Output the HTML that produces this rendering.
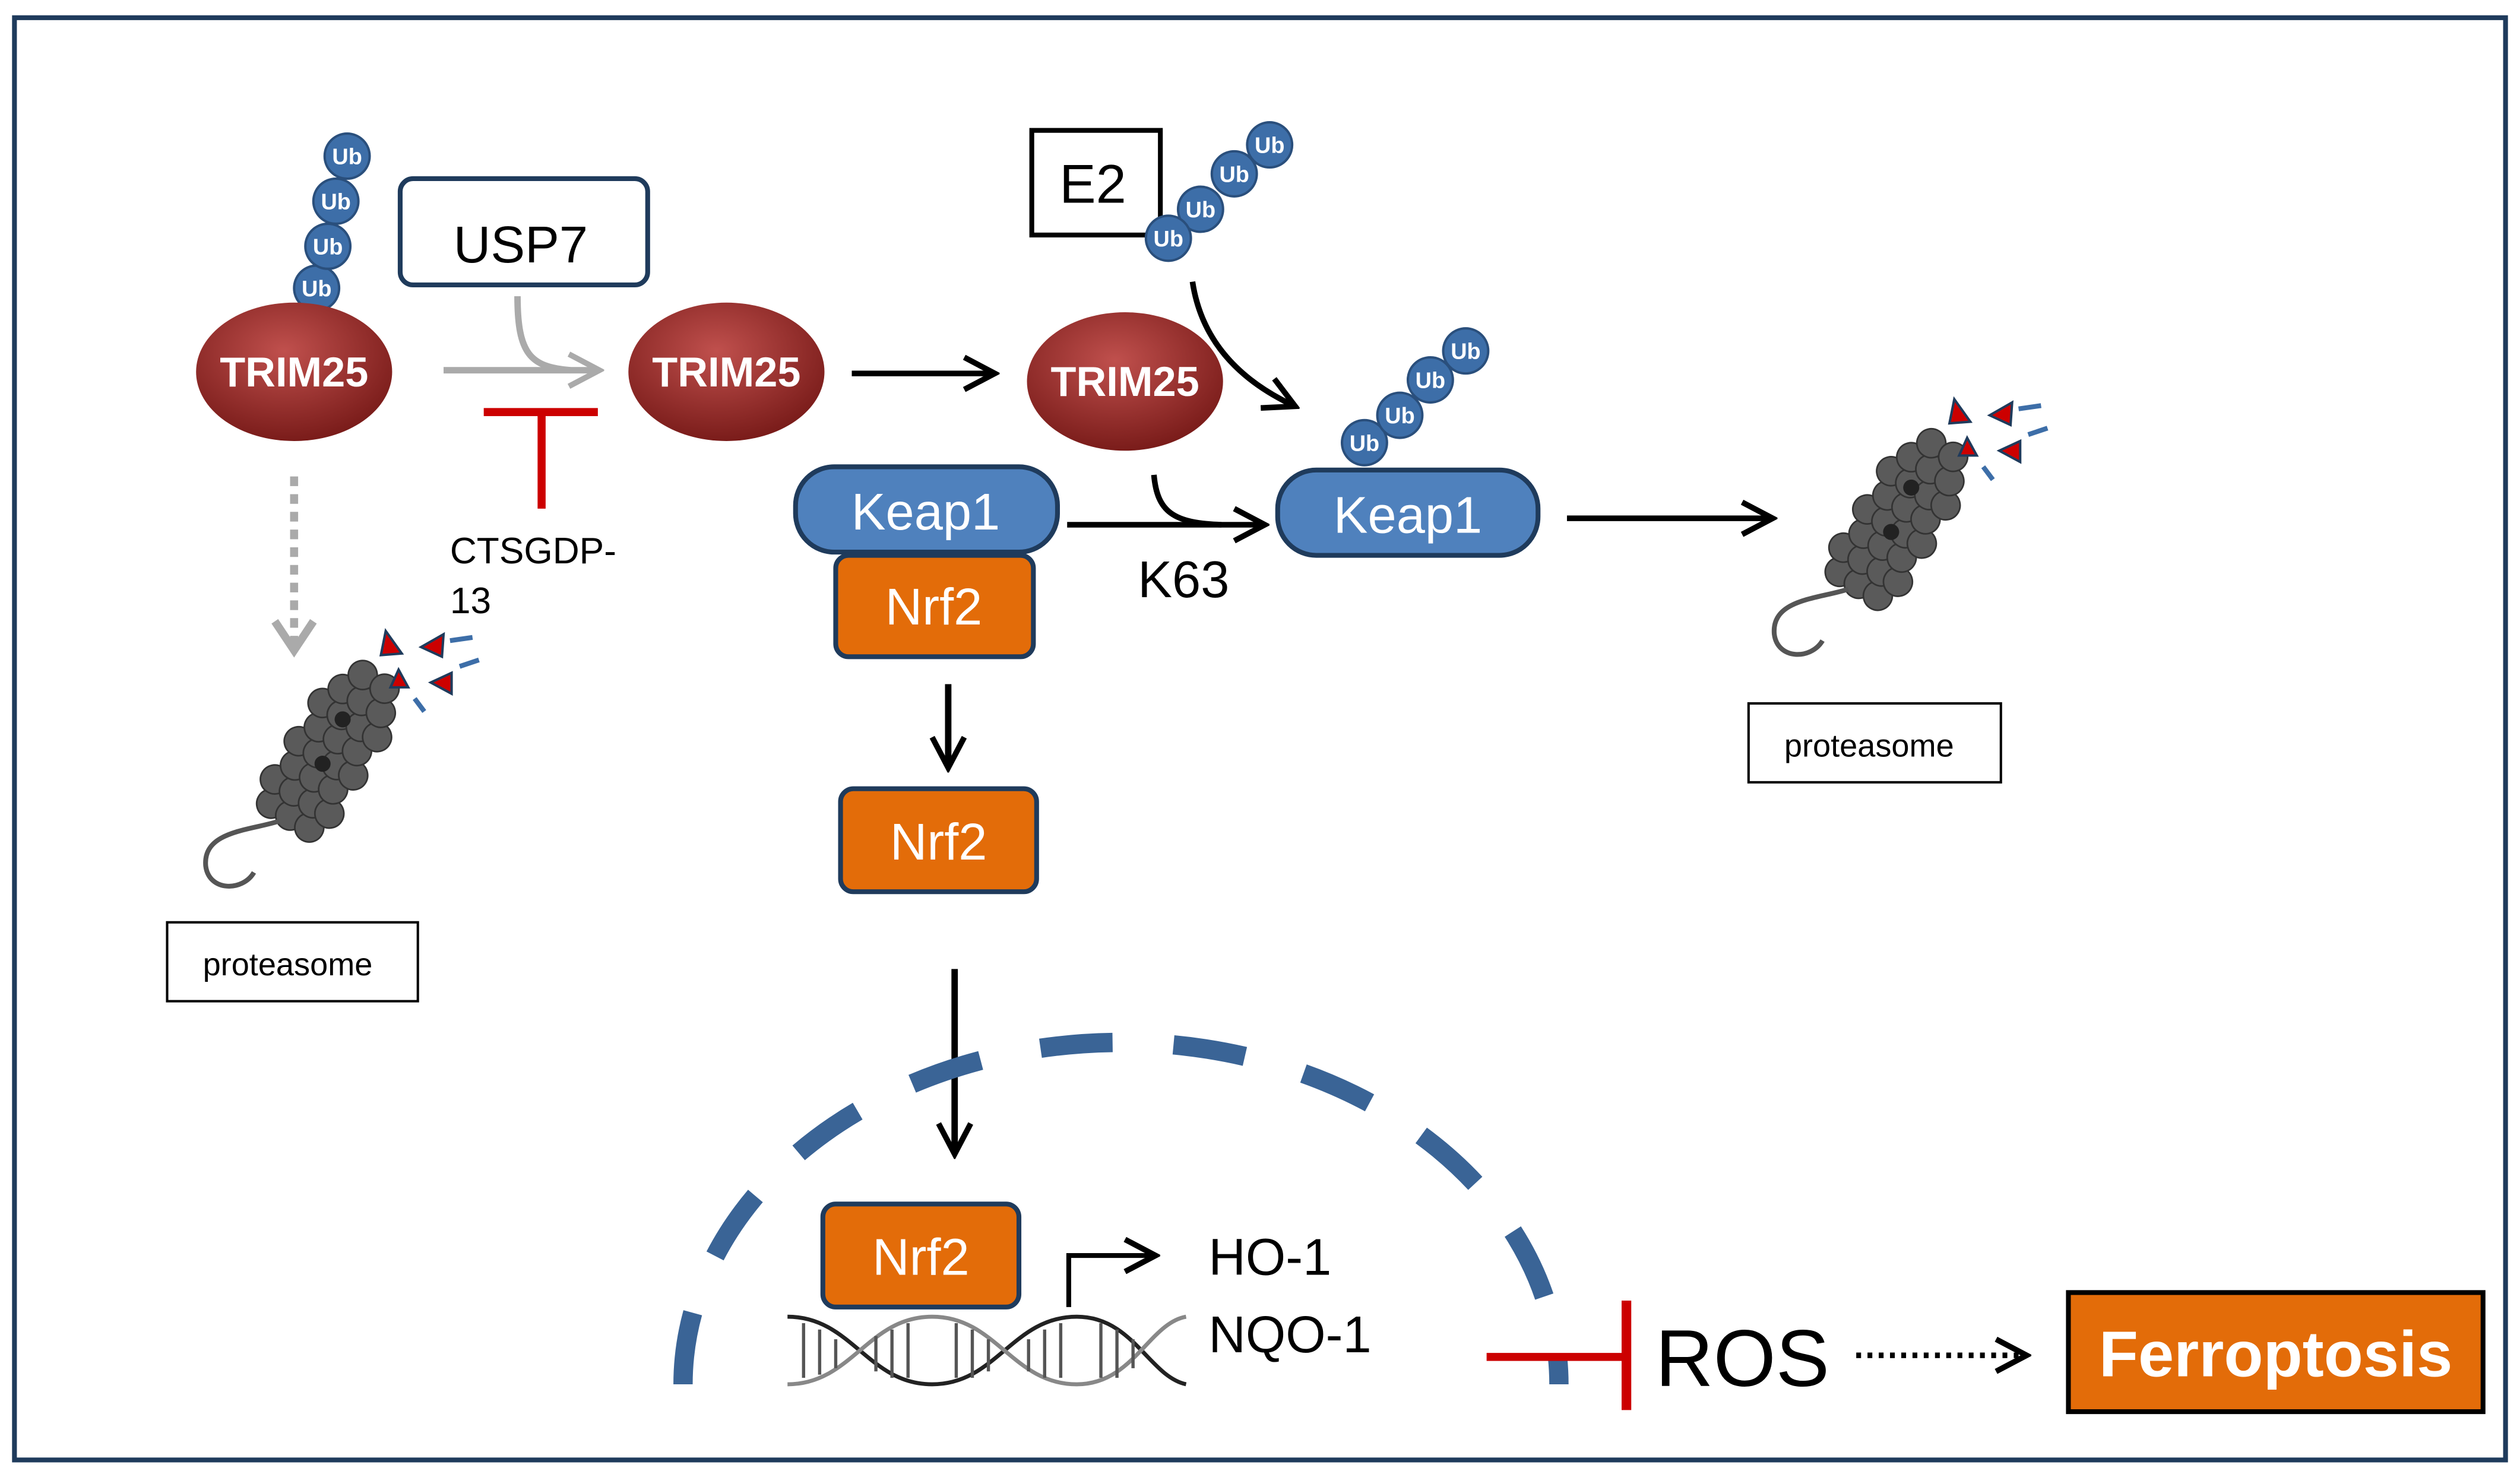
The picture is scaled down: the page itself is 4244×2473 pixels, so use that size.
<!DOCTYPE html>
<html><head><meta charset="utf-8"><style>
html,body{margin:0;padding:0;background:#fff;width:4244px;height:2473px;overflow:hidden}
svg{display:block}
text{font-family:"Liberation Sans",sans-serif}
</style></head><body>
<svg width="4244" height="2473" viewBox="0 0 1568 912" preserveAspectRatio="none" xmlns="http://www.w3.org/2000/svg">
<defs>
<radialGradient id="rg" cx="45%" cy="35%" r="65%"><stop offset="0" stop-color="#c0504d"/><stop offset="1" stop-color="#7a1c1a"/></radialGradient>
<marker id="abig" markerWidth="24" markerHeight="24" refX="20" refY="12" orient="auto" markerUnits="userSpaceOnUse"><path d="M2,2 L21,12 L2,22" fill="none" stroke="#000" stroke-width="3.5"/></marker>
<marker id="agray" markerWidth="24" markerHeight="24" refX="20" refY="12" orient="auto" markerUnits="userSpaceOnUse"><path d="M2,2 L21,12 L2,22" fill="none" stroke="#aaa" stroke-width="3.5"/></marker>
<g id="ub"><circle r="14" fill="#3d6ea8" stroke="#2a4f7c" stroke-width="1.5"/><text y="5" text-anchor="middle" font-size="14" font-weight="bold" fill="#fff">Ub</text></g>
<g id="prot">
<g transform="rotate(-58)">
<g fill="#5a5a5a" stroke="#333" stroke-width="1">
<circle cx="-48" cy="-14" r="9"/><circle cx="-48" cy="0" r="9"/><circle cx="-48" cy="14" r="9"/>
<circle cx="-34" cy="-20" r="9"/><circle cx="-34" cy="-6" r="9"/><circle cx="-34" cy="8" r="9"/><circle cx="-34" cy="20" r="9"/>
<circle cx="-20" cy="-14" r="9"/><circle cx="-20" cy="0" r="9"/><circle cx="-20" cy="14" r="9"/>
<circle cx="-6" cy="-20" r="9"/><circle cx="-6" cy="-6" r="9"/><circle cx="-6" cy="8" r="9"/><circle cx="-6" cy="20" r="9"/>
<circle cx="8" cy="-14" r="9"/><circle cx="8" cy="0" r="9"/><circle cx="8" cy="14" r="9"/>
<circle cx="22" cy="-20" r="9"/><circle cx="22" cy="-6" r="9"/><circle cx="22" cy="8" r="9"/><circle cx="22" cy="20" r="9"/>
<circle cx="36" cy="-14" r="9"/><circle cx="36" cy="0" r="9"/><circle cx="36" cy="14" r="9"/>
<circle cx="50" cy="-8" r="9"/><circle cx="50" cy="8" r="9"/>
</g>
<circle cx="-10" cy="0" r="5" fill="#222"/><circle cx="20" cy="-4" r="5" fill="#222"/>
</g>
<path d="M-32,44 C-50,50 -80,50 -78,72 C-76,88 -55,88 -48,76" fill="none" stroke="#555" stroke-width="3"/>
<g stroke="#1f3b5c" stroke-width="1.5" fill="#c00">
<path d="M34,-74 l10,14 l-13,1z"/><path d="M56,-64 l14,-8 l-1,14z"/><path d="M62,-42 l13,-6 l0,13z"/><path d="M42,-50 l6,11 l-11,0z"/>
</g>
<path d="M74,-68 l14,-2 M80,-52 l12,-4 M52,-32 l6,8" stroke="#3d6ea8" stroke-width="3"/>
</g>
</defs>
<rect x="9" y="11" width="1550" height="896" fill="#fff" stroke="#1f3b5c" stroke-width="3"/>

<use href="#ub" x="197" y="179"/><use href="#ub" x="204" y="153"/><use href="#ub" x="209" y="125"/><use href="#ub" x="216" y="97"/>
<ellipse cx="183" cy="231" rx="61" ry="43" fill="url(#rg)"/>
<text x="183" y="240" text-anchor="middle" font-size="26" font-weight="bold" fill="#fff">TRIM25</text>

<rect x="249" y="111" width="154" height="66" rx="8" fill="#fff" stroke="#1f3b5c" stroke-width="3"/>
<text x="324" y="163" text-anchor="middle" font-size="32">USP7</text>
<line x1="276" y1="230" x2="372" y2="230" stroke="#aaa" stroke-width="4" marker-end="url(#agray)"/>
<path d="M322,184 C322,220 330,228 355,230" fill="none" stroke="#aaa" stroke-width="4"/>
<line x1="337" y1="256" x2="337" y2="316" stroke="#c00" stroke-width="5"/>
<line x1="301" y1="256" x2="372" y2="256" stroke="#c00" stroke-width="5"/>
<text x="280" y="350" font-size="23">CTSGDP-</text>
<text x="280" y="381" font-size="23">13</text>

<ellipse cx="452" cy="231" rx="61" ry="43" fill="url(#rg)"/>
<text x="452" y="240" text-anchor="middle" font-size="26" font-weight="bold" fill="#fff">TRIM25</text>
<line x1="530" y1="232" x2="618" y2="232" stroke="#000" stroke-width="3.5" marker-end="url(#abig)"/>

<ellipse cx="700" cy="237" rx="61" ry="43" fill="url(#rg)"/>
<text x="700" y="246" text-anchor="middle" font-size="26" font-weight="bold" fill="#fff">TRIM25</text>

<rect x="642" y="81" width="80" height="65" fill="#fff" stroke="#000" stroke-width="3"/>
<text x="680" y="126" text-anchor="middle" font-size="34">E2</text>
<use href="#ub" x="790" y="90"/><use href="#ub" x="768" y="108"/><use href="#ub" x="747" y="130"/><use href="#ub" x="727" y="148"/>
<path d="M742,175 C748,215 775,238 805,252" fill="none" stroke="#000" stroke-width="3.5" marker-end="url(#abig)"/>

<rect x="495" y="290" width="163" height="53" rx="24" fill="#4f81bd" stroke="#1f3b5c" stroke-width="3"/>
<text x="576" y="329" text-anchor="middle" font-size="32" fill="#fff">Keap1</text>
<rect x="520" y="345" width="123" height="63" rx="8" fill="#e36c09" stroke="#1f3b5c" stroke-width="3"/>
<text x="581" y="388" text-anchor="middle" font-size="32" fill="#fff">Nrf2</text>

<line x1="664" y1="326" x2="786" y2="326" stroke="#000" stroke-width="3.5" marker-end="url(#abig)"/>
<path d="M718,295 C720,318 730,325 760,326" fill="none" stroke="#000" stroke-width="3.5"/>
<text x="708" y="371" font-size="32">K63</text>

<use href="#ub" x="849" y="275"/><use href="#ub" x="871" y="258"/><use href="#ub" x="890" y="236"/><use href="#ub" x="912" y="218"/>
<rect x="795" y="292" width="162" height="53" rx="24" fill="#4f81bd" stroke="#1f3b5c" stroke-width="3"/>
<text x="876" y="331" text-anchor="middle" font-size="32" fill="#fff">Keap1</text>
<line x1="975" y1="322" x2="1102" y2="322" stroke="#000" stroke-width="3.5" marker-end="url(#abig)"/>

<use href="#prot" x="1182" y="322"/>
<rect x="1088" y="437" width="157" height="49" fill="#fff" stroke="#000" stroke-width="1.5"/>
<text x="1163" y="470" text-anchor="middle" font-size="20">proteasome</text>

<line x1="183" y1="296" x2="183" y2="402" stroke="#aaa" stroke-width="5" stroke-dasharray="6,5"/>
<path d="M171,386 L183,404 L195,386" fill="none" stroke="#aaa" stroke-width="5"/>
<use href="#prot" x="206" y="466"/>
<rect x="104" y="573" width="156" height="49" fill="#fff" stroke="#000" stroke-width="1.5"/>
<text x="179" y="606" text-anchor="middle" font-size="20">proteasome</text>

<line x1="590" y1="425" x2="590" y2="476" stroke="#000" stroke-width="4" marker-end="url(#abig)"/>
<rect x="523" y="490" width="122" height="64" rx="8" fill="#e36c09" stroke="#1f3b5c" stroke-width="3"/>
<text x="584" y="534" text-anchor="middle" font-size="32" fill="#fff">Nrf2</text>
<line x1="594" y1="602" x2="594" y2="716" stroke="#000" stroke-width="4" marker-end="url(#abig)"/>

<path d="M425,860 A272,212 0 0 1 970,860" fill="none" stroke="#3a6496" stroke-width="12" stroke-dasharray="45,38"/>

<rect x="512" y="748" width="122" height="64" rx="8" fill="#e36c09" stroke="#1f3b5c" stroke-width="3"/>
<text x="573" y="792" text-anchor="middle" font-size="32" fill="#fff">Nrf2</text>
<g fill="none" stroke-width="2.5">
<path d="M490,818 C530,818 540,860 580,860 C620,860 630,818 670,818 C705,818 715,855 738,860" stroke="#222"/>
<path d="M490,860 C530,860 540,818 580,818 C620,818 630,860 670,860 C705,860 715,822 738,818" stroke="#888"/>
<g stroke="#555" stroke-width="2"><path d="M500,822v34M510,826v28M520,832v18M545,830v22M555,826v30M565,822v34M595,822v34M605,826v30M615,832v20M640,832v20M650,826v30M660,822v34M685,822v34M695,826v30M705,832v18"/></g>
</g>
<path d="M665,812 V780 H718" fill="none" stroke="#000" stroke-width="3" marker-end="url(#abig)"/>
<text x="752" y="792" font-size="32">HO-1</text>
<text x="752" y="840" font-size="32">NQO-1</text>

<line x1="925" y1="843" x2="1012" y2="843" stroke="#c00" stroke-width="5"/>
<line x1="1012" y1="808" x2="1012" y2="876" stroke="#c00" stroke-width="6"/>
<text x="1030" y="861" font-size="50">ROS</text>
<line x1="1155" y1="842" x2="1260" y2="842" stroke="#000" stroke-width="3.5" stroke-dasharray="3,4" marker-end="url(#abig)"/>
<rect x="1287" y="803" width="258" height="74" fill="#e36c09" stroke="#000" stroke-width="3"/>
<text x="1416" y="855" text-anchor="middle" font-size="40" font-weight="bold" fill="#fff">Ferroptosis</text>
</svg>
</body></html>
